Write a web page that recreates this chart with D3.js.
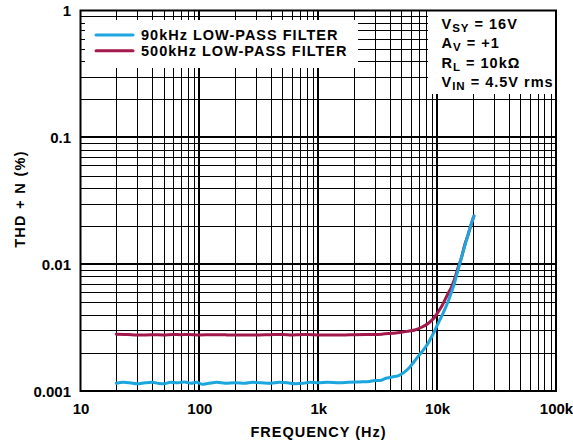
<!DOCTYPE html>
<html>
<head>
<meta charset="utf-8">
<script src="https://cdn.jsdelivr.net/npm/d3@7"></script>
<style>
  html, body { margin: 0; padding: 0; background: #fff; }
  svg { display: block; }
</style>
</head>
<body>
<svg id="chart" width="573" height="444"></svg>
<script>
// ---- data ----
const freq90 = [20,23,26,30,35,40,45,50,57,65,75,85,95,105,120,140,165,200,240,280,330,400,470,550,640,750,850,1000,1200,1500,1800,2200,2700,3000,3300,3700,4200,4800,5300,5800,6400,7000,7700,8400,9000,9600,10200,11000,11600,12400,13200,14000,14600,15300,16000,17000,18000,19200,20400];
const thd90 = [0.00115,0.00117,0.00116,0.00114,0.00116,0.00117,0.00115,0.00114,0.00117,0.00116,0.00118,0.00115,0.00117,0.00113,0.00115,0.00117,0.00115,0.00116,0.00115,0.00117,0.00116,0.00115,0.00117,0.00116,0.00114,0.00115,0.00117,0.00116,0.00117,0.00116,0.00117,0.00118,0.00119,0.00121,0.00121,0.00126,0.00129,0.00133,0.00141,0.00152,0.00170,0.00190,0.00212,0.00238,0.00268,0.00302,0.00342,0.00395,0.00440,0.0051,0.0060,0.0071,0.0082,0.0096,0.0112,0.0137,0.0165,0.0203,0.0240];

const freq500 = [20,25,30,40,50,60,70,80,100,130,170,200,260,300,400,500,600,700,800,1000,1300,1600,2000,2500,3000,3500,4000,4500,5000,5800,6500,7400,8400,9000,9600,10200,11000,11600,12400,13200,14000,15000,16000,17100,18200,19200,20400];
const thd500 = [0.00280,0.00279,0.00276,0.00278,0.00277,0.00279,0.00278,0.00279,0.00277,0.00278,0.00277,0.00276,0.00277,0.00276,0.00278,0.00279,0.00277,0.00278,0.00279,0.00277,0.00276,0.00276,0.00278,0.00279,0.00279,0.00281,0.00284,0.00287,0.00290,0.00297,0.00303,0.00318,0.00341,0.00360,0.00385,0.00421,0.00470,0.00520,0.00590,0.00660,0.00760,0.00940,0.01120,0.01430,0.01700,0.02010,0.02400];

const xTickValues = [10, 100, 1000, 10000, 100000];
const xTickLabels = ["10", "100", "1k", "10k", "100k"];
const yTickValues = [0.001, 0.01, 0.1, 1];
const yTickLabels = ["0.001", "0.01", "0.1", "1"];

const seriesNames = ["90kHz LOW-PASS FILTER", "500kHz LOW-PASS FILTER"];
const seriesColors = ["#1ba6dd", "#a3194b"];

const xTitle = "FREQUENCY (Hz)";
const yTitle = "THD + N (%)";

// ---- layout ----
const L = 80.5, R = 556, T = 10.5, B = 391;
const svg = d3.select("#chart");
const x = d3.scaleLog().domain([10, 100000]).range([L, R]);
const y = d3.scaleLog().domain([0.001, 1]).range([B, T]);

const font = "'Liberation Sans', Arial, Helvetica, sans-serif";
const ls = "1px";

// gridlines
const xGrid = [];
for (let d = 10; d < 100000; d *= 10) for (let m = 1; m <= 9; m++) xGrid.push({v: d * m, major: m === 1});
const yGrid = [];
for (let d = 0.001; d < 0.99; d *= 10) for (let m = 1; m <= 9; m++) yGrid.push({v: d * m, major: m === 1});

const grid = svg.append("g");
grid.selectAll("line.vx").data(xGrid.filter(d => d.v > 10)).enter().append("line")
  .attr("x1", d => Math.round(x(d.v)) + (d.major ? 0 : 0.5))
  .attr("x2", d => Math.round(x(d.v)) + (d.major ? 0 : 0.5))
  .attr("y1", T).attr("y2", B)
  .attr("stroke", "#000").attr("stroke-width", d => d.major ? 2 : 1);
grid.selectAll("line.hy").data(yGrid.filter(d => d.v > 0.0011)).enter().append("line")
  .attr("y1", d => Math.round(y(d.v)) + (d.major ? 0 : 0.5))
  .attr("y2", d => Math.round(y(d.v)) + (d.major ? 0 : 0.5))
  .attr("x1", L).attr("x2", R)
  .attr("stroke", "#000").attr("stroke-width", d => d.major ? 2 : 1);

// white boxes
svg.append("rect").attr("x", 85).attr("y", 20).attr("width", 273).attr("height", 48).attr("fill", "#fff");
svg.append("rect").attr("x", 428).attr("y", T).attr("width", R - 428).attr("height", 94 - T).attr("fill", "#fff");

// curves
const line = d3.line().x(d => x(d[0])).y(d => y(d[1])).curve(d3.curveMonotoneX);
const series = [freq90.map((f, i) => [f, thd90[i]]), freq500.map((f, i) => [f, thd500[i]])];
svg.selectAll("path.s").data([series[1], series[0]]).enter().append("path")
  .attr("d", line).attr("fill", "none")
  .attr("stroke", (d, i) => i === 0 ? seriesColors[1] : seriesColors[0])
  .attr("stroke-width", 3).attr("stroke-linejoin", "round").attr("stroke-linecap", "round");

// frame
svg.append("rect").attr("x", L).attr("y", T).attr("width", R - L).attr("height", B - T)
  .attr("fill", "none").attr("stroke", "#000").attr("stroke-width", 2);

// axes (labels only)
const xAxis = d3.axisBottom(x).tickValues(xTickValues).tickSize(0).tickPadding(0)
  .tickFormat((d, i) => xTickLabels[i]);
const gx = svg.append("g").attr("transform", `translate(0,${B})`).call(xAxis);
gx.select(".domain").remove();
gx.selectAll("text").attr("y", 23).attr("dy", 0)
  .attr("font-family", font).attr("font-size", 15).attr("font-weight", "bold").attr("fill", "#000");

const yAxis = d3.axisLeft(y).tickValues(yTickValues).tickSize(0).tickPadding(0)
  .tickFormat((d, i) => yTickLabels[i]);
const gy = svg.append("g").attr("transform", `translate(${L},0)`).call(yAxis);
gy.select(".domain").remove();
gy.selectAll("text").attr("x", -9.5).attr("dy", "0.35em")
  .attr("font-family", font).attr("font-size", 15).attr("font-weight", "bold").attr("fill", "#000");

// axis titles
svg.append("text").attr("x", 318.5).attr("y", 437).attr("text-anchor", "middle")
  .attr("font-family", font).attr("font-size", 14.5).attr("font-weight", "bold")
  .attr("letter-spacing", ls).text(xTitle);
svg.append("text").attr("transform", "translate(25,199) rotate(-90)").attr("text-anchor", "middle")
  .attr("font-family", font).attr("font-size", 14.5).attr("font-weight", "bold")
  .attr("letter-spacing", "1.3px").text(yTitle);

// legend
const lg = svg.append("g");
seriesNames.forEach((name, i) => {
  const yy = 35 + i * 15.7;
  lg.append("line").attr("x1", 96).attr("x2", 133).attr("y1", yy).attr("y2", yy)
    .attr("stroke", seriesColors[i]).attr("stroke-width", 3).attr("stroke-linecap", "round");
  lg.append("text").attr("x", 141).attr("y", yy + 5).attr("font-family", font)
    .attr("font-size", 14.5).attr("font-weight", "bold").attr("letter-spacing", ls).text(name);
});

// annotation
const notes = [["V", "SY", " = 16V"], ["A", "V", " = +1"], ["R", "L", " = 10kΩ"], ["V", "IN", " = 4.5V rms"]];
const ann = svg.append("g");
notes.forEach((n, i) => {
  const t = ann.append("text").attr("x", 441.5).attr("y", 28.5 + i * 19.6)
    .attr("font-family", font).attr("font-size", 14.5).attr("font-weight", "bold").attr("letter-spacing", ls);
  t.append("tspan").text(n[0]);
  t.append("tspan").attr("font-size", 11.5).attr("dy", 3).text(n[1]);
  t.append("tspan").attr("dy", -3).text(n[2]);
});
</script>
</body>
</html>
